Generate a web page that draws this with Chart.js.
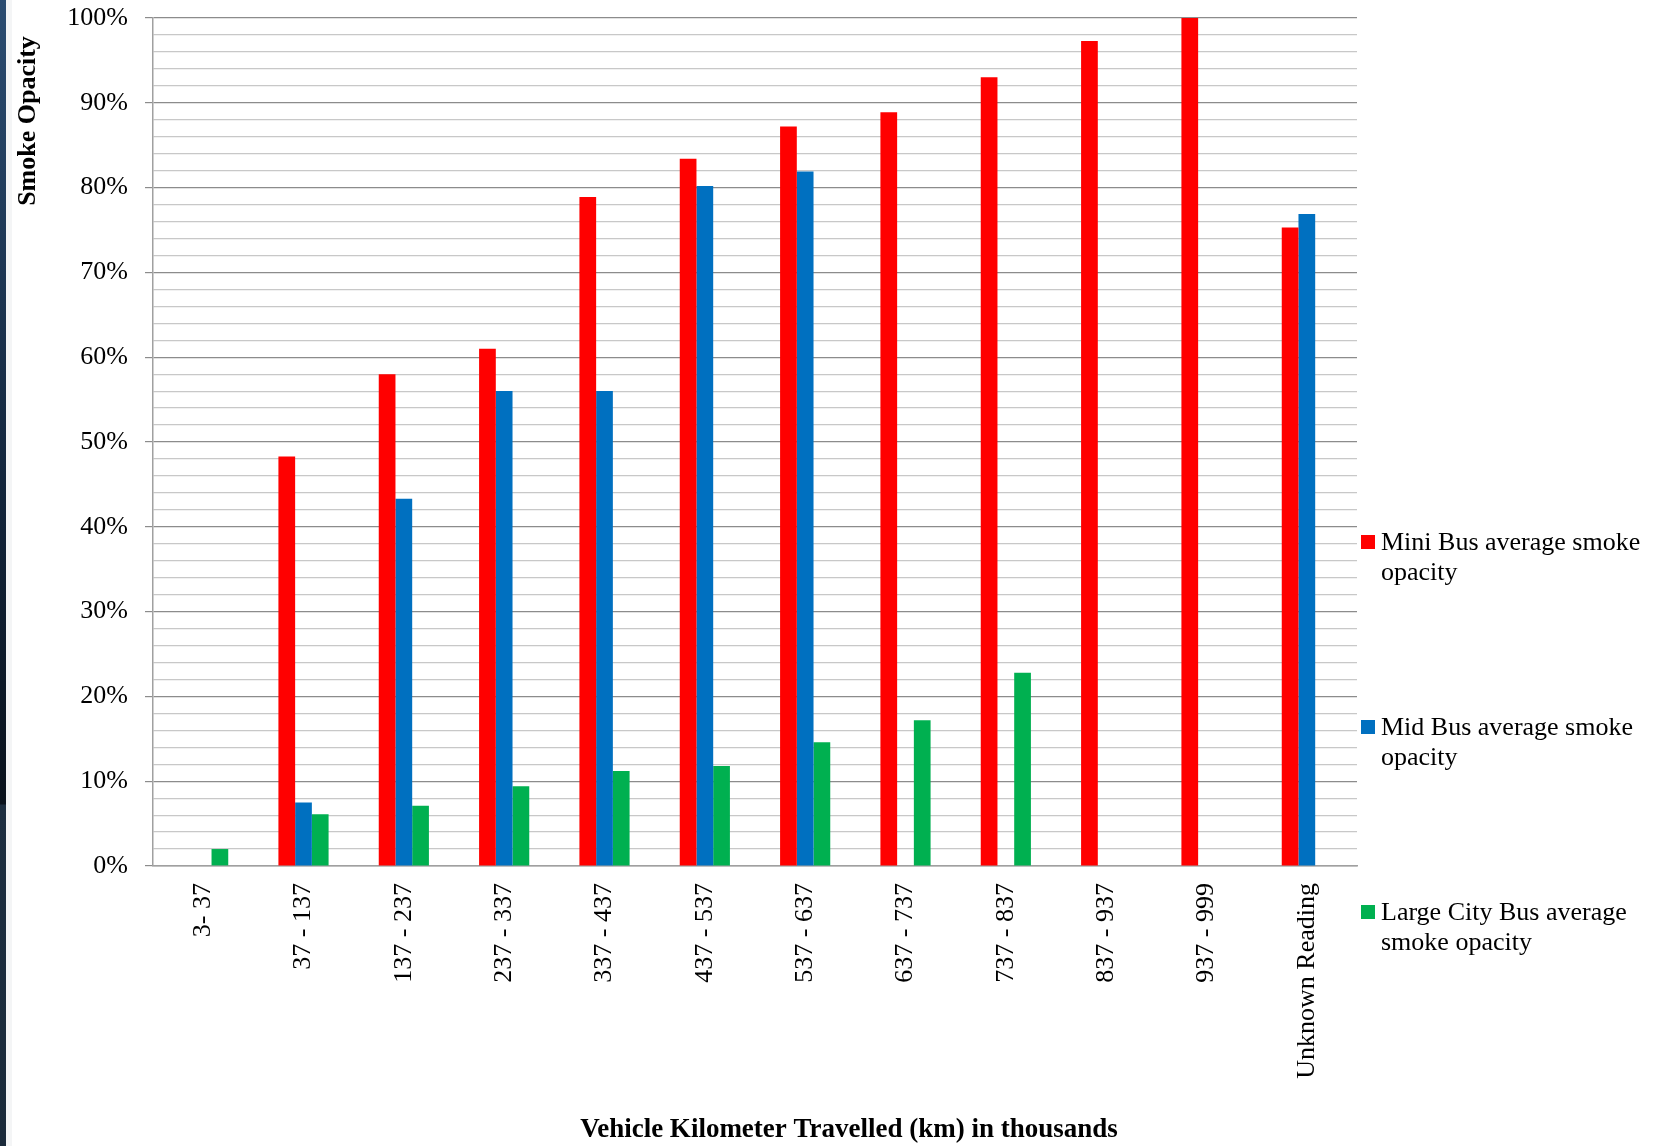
<!DOCTYPE html>
<html>
<head>
<meta charset="utf-8">
<title>Smoke Opacity</title>
<script src="https://cdn.jsdelivr.net/npm/chart.js@4.4.0/dist/chart.umd.min.js"></script>
<style>
  html, body { margin: 0; padding: 0; background: #fff; overflow: hidden; }
  #wrap { position: relative; width: 1673px; height: 1146px; }
  #edge { position: absolute; left: 0; top: 0; width: 6px; height: 1146px;
    background: linear-gradient(to bottom, #2b4c71 0px, #12243a 500px, #0a121c 804px, #1d2e40 805px, #1a2a3a 1146px); }
  #edge2 { position: absolute; left: 6px; top: 0; width: 6px; height: 1146px; background: #f4f5f6; }
</style>
</head>
<body>
<div id="wrap">
  <canvas id="chart" width="1673" height="1146"></canvas>
  <div id="edge"></div>
  <div id="edge2"></div>
</div>
<script>
// categories (km travelled, thousands)
const categories = ['3- 37', '37 - 137', '137 - 237', '237 - 337', '337 - 437', '437 - 537',
  '537 - 637', '637 - 737', '737 - 837', '837 - 937', '937 - 999', 'Unknown Reading'];

// average smoke opacity, %
const miniBus  = [null, 48.3, 58.0, 61.0, 78.9, 83.4, 87.2, 88.9, 93.0, 97.3, 100, 75.3];
const midBus   = [null, 7.5, 43.3, 56.0, 56.0, 80.2, 81.9, null, null, null, null, 76.9];
const largeBus = [2.0, 6.1, 7.1, 9.4, 11.2, 11.8, 14.6, 17.2, 22.8, null, null, null];

const seriesNames = [
  ['Mini Bus average smoke', 'opacity'],
  ['Mid Bus average smoke', 'opacity'],
  ['Large City Bus average', 'smoke opacity']
];
const seriesColors = ['#ff0000', '#0070c0', '#00b050'];

const yTicks = [0, 10, 20, 30, 40, 50, 60, 70, 80, 90, 100];

const FONT = "'Liberation Serif', 'Times New Roman', serif";

// titles + legend drawn by hand (Excel style placement)
const extras = {
  id: 'extras',
  afterDraw(chart) {
    const ctx = chart.ctx;
    ctx.save();
    ctx.fillStyle = '#000';

    // y title
    ctx.font = 'bold 26px ' + FONT;
    ctx.textAlign = 'center';
    ctx.textBaseline = 'middle';
    ctx.save();
    ctx.translate(28, 121);
    ctx.rotate(-Math.PI / 2);
    ctx.fillText('Smoke Opacity', 0, 0);
    ctx.restore();

    // x title
    ctx.font = 'bold 27px ' + FONT;
    ctx.fillText('Vehicle Kilometer Travelled (km) in thousands', 849, 1130);

    // legend
    ctx.font = '26px ' + FONT;
    ctx.textAlign = 'left';
    const rows = [542, 727, 912];
    chart.data.datasets.forEach((ds, i) => {
      ctx.fillStyle = ds.backgroundColor;
      ctx.fillRect(1361, rows[i] - 7, 14, 14);
      ctx.fillStyle = '#000';
      seriesNames[i].forEach((line, j) => ctx.fillText(line, 1381, rows[i] + 1 + j * 30));
    });
    ctx.restore();
  }
};

new Chart(document.getElementById('chart'), {
  type: 'bar',
  data: {
    labels: categories,
    datasets: [
      { label: seriesNames[0].join(' '), data: miniBus, backgroundColor: seriesColors[0] },
      { label: seriesNames[1].join(' '), data: midBus, backgroundColor: seriesColors[1] },
      { label: seriesNames[2].join(' '), data: largeBus, backgroundColor: seriesColors[2] }
    ]
  },
  options: {
    responsive: false,
    animation: false,
    categoryPercentage: 0.5,
    barPercentage: 1.0,
    layout: { padding: { top: 18, left: 0, right: 316, bottom: 0 } },
    plugins: { legend: { display: false }, tooltip: { enabled: false } },
    scales: {
      x: {
        grid: { display: false, drawTicks: false },
        border: { display: true, color: '#a0a0a0', width: 1.5 },
        ticks: {
          autoSkip: false, minRotation: 90, maxRotation: 90, padding: 17,
          color: '#000', font: { family: FONT, size: 26 }
        },
        afterFit: s => { s.height = 280; s.paddingLeft = 0; s.paddingRight = 0; }
      },
      y: {
        min: 0, max: 100,
        border: { display: true, color: '#a0a0a0', width: 1.5 },
        grid: {
          tickLength: 8,
          color: c => (c.tick && yTicks.includes(c.tick.value)) ? '#8c8c8c' : '#c8c8c8',
          tickColor: c => (c.tick && yTicks.includes(c.tick.value)) ? '#8c8c8c' : 'rgba(0,0,0,0)',
          lineWidth: 1.2
        },
        ticks: {
          stepSize: 2, autoSkip: false, padding: 17, color: '#000',
          font: { family: FONT, size: 26 },
          callback: v => yTicks.includes(v) ? v + '%' : ''
        },
        afterFit: s => { s.width = 153; s.paddingTop = 0; s.paddingBottom = 0; }
      }
    }
  },
  plugins: [extras]
});
</script>
</body>
</html>
